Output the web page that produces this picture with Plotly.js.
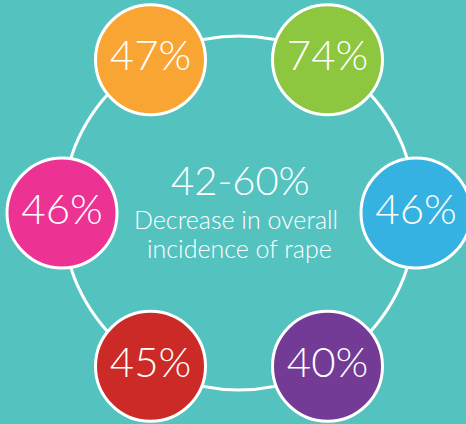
<!DOCTYPE html>
<html><head><meta charset="utf-8">
<script src="https://cdn.plot.ly/plotly-3.0.1.min.js"></script>
<style>html,body{margin:0;padding:0;background:#54c3bf;}#chart{width:466px;height:424px;}</style>
</head><body><div id="chart"></div>
<script>
// Values going counter-clockwise from the right (0°)
const labels = ["46%", "74%", "47%", "46%", "45%", "40%"];
const values = [46, 74, 47, 46, 45, 40];
const colors = ["#35b2e2", "#8dc63f", "#f9a533", "#ec3393", "#cb2a27", "#733b96"];
const centerTitle = "42-60%";
const centerSub = ["Decrease in overall", "incidence of rape"];

const cx = 239, cy = 213, R = 177;
const xs = [], ys = [];
for (let i = 0; i < values.length; i++) {
  const a = i * Math.PI / 3;
  xs.push(cx + R * Math.cos(a));
  ys.push(cy - R * Math.sin(a));
}
const FONT = "Lato";
const traces = [{
  type: "scatter", mode: "markers+text",
  x: xs, y: ys,
  text: values.map(v => v + "%"),
  customdata: labels,
  textposition: "middle center",
  textfont: {family: FONT, size: 42, color: "#ffffff", weight: 300},
  marker: {size: 110, color: colors, line: {color: "#ffffff", width: 3}},
  hoverinfo: "text", cliponaxis: false
}];
const layout = {
  width: 466, height: 424,
  margin: {l: 0, r: 0, t: 0, b: 0},
  paper_bgcolor: "#54c3bf", plot_bgcolor: "#54c3bf",
  showlegend: false,
  xaxis: {range: [0, 466], visible: false, fixedrange: true},
  yaxis: {range: [424, 0], visible: false, fixedrange: true},
  shapes: [{type: "circle", xref: "x", yref: "y", layer: "below",
    x0: cx - R, x1: cx + R, y0: cy - R, y1: cy + R,
    line: {color: "#ffffff", width: 3}}],
  annotations: [
    {x: cx + 1, y: 180, xref: "x", yref: "y", text: centerTitle, showarrow: false,
     font: {family: FONT, size: 40, color: "#ffffff", weight: 300}},
    {x: cx - 3, y: 219, xref: "x", yref: "y", text: centerSub[0], showarrow: false,
     font: {family: FONT, size: 25, color: "#ffffff", weight: 300}},
    {x: cx, y: 248, xref: "x", yref: "y", text: centerSub[1], showarrow: false,
     font: {family: FONT, size: 25, color: "#ffffff", weight: 300}}
  ]
};
Plotly.newPlot("chart", traces, layout, {displayModeBar: false, staticPlot: true});
</script></body></html>
